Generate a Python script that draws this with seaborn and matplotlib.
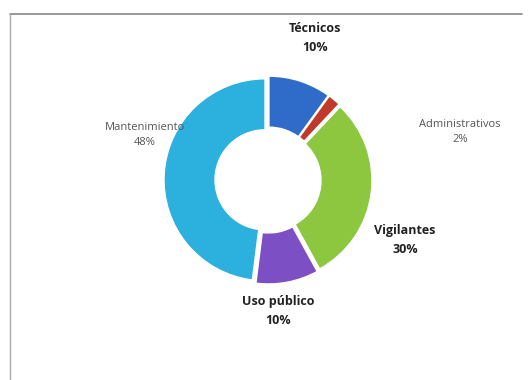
import matplotlib
matplotlib.use("Agg")
import matplotlib.pyplot as plt
import seaborn as sns
from matplotlib.lines import Line2D

categories = ["Técnicos", "Administrativos", "Vigilantes", "Uso público", "Mantenimiento"]
values = [10, 2, 30, 10, 48]
pct_labels = ["10%", "2%", "30%", "10%", "48%"]
colors = ["#2f6cc9", "#c0392b", "#8dc63f", "#7c4fc4", "#2cb0dd"]

sns.set_theme(style="white")
plt.rcParams["font.family"] = ["Open Sans", "DejaVu Sans"]

fig = plt.figure(figsize=(5.28, 3.80), dpi=100)
ax = fig.add_axes([0, 0, 1, 1])

wedges, _ = ax.pie(values, colors=colors, startangle=90, counterclock=False,
                   center=(268, 200), radius=101,
                   explode=[3] * len(values),
                   wedgeprops=dict(width=51, edgecolor="white", linewidth=1.0))
ax.set_xlim(0, 528)
ax.set_ylim(0, 380)
ax.set_aspect("equal")
ax.axis("off")

# label positions (pixels from top-left), same order as categories
label_pos = [(315, 38), (460, 132), (405, 240), (278, 311), (145, 135)]
bold = [True, False, True, True, False]
for cat, pct, (x, y), b in zip(categories, pct_labels, label_pos, bold):
    ax.text(x, 380 - y, f"{cat}\n{pct}", ha="center", va="center",
            fontsize=9.0 if b else 8.0, fontweight="bold" if b else "normal",
            color="#222222" if b else "#555555", linespacing=1.6 if b else 1.45)

# frame lines
fig.add_artist(Line2D([10 / 528, 522 / 528], [1 - 14 / 380, 1 - 14 / 380], color="#888888", lw=1.2))
fig.add_artist(Line2D([10 / 528, 10 / 528], [0, 1 - 14 / 380], color="#aaaaaa", lw=1.0))

fig.savefig("out.png", dpi=100, facecolor="white")
